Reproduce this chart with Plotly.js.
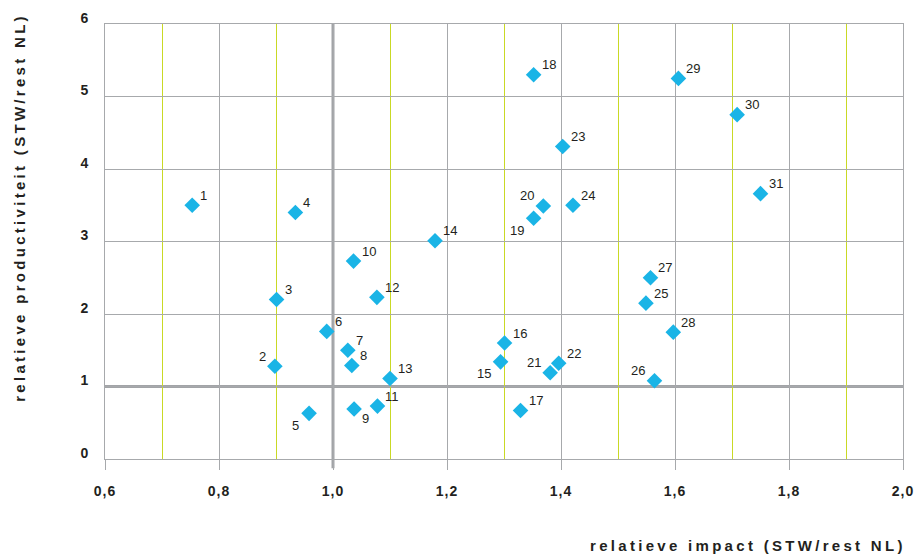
<!DOCTYPE html>
<html>
<head>
<meta charset="utf-8">
<script src="https://cdn.plot.ly/plotly-3.0.1.min.js"></script>
<style>
  html, body { margin: 0; padding: 0; background: #ffffff; }
  #chart { width: 915px; height: 554px; }
  .xtick text, .ytick text { letter-spacing: 1px; }
  .infolayer .annotation[data-index="31"] text,
  .infolayer .annotation[data-index="32"] text { letter-spacing: 3.3px; }
</style>
</head>
<body>
<div id="chart"></div>
<script>
// ---- data ----
const pointIds = [1, 2, 3, 4, 5, 6, 7, 8, 9, 10, 11, 12, 13, 14, 15, 16, 17, 18, 19, 20, 21, 22, 23, 24, 25, 26, 27, 28, 29, 30, 31];
const impact = [0.753, 0.898, 0.901, 0.934, 0.958, 0.989, 1.026, 1.033, 1.037, 1.036, 1.078, 1.077, 1.100, 1.179, 1.294, 1.301, 1.329, 1.352, 1.352, 1.369, 1.381, 1.396, 1.403, 1.421, 1.549, 1.564, 1.557, 1.597, 1.606, 1.709, 1.750];
const productivity = [3.50, 1.28, 2.20, 3.40, 0.63, 1.76, 1.50, 1.29, 0.69, 2.73, 0.73, 2.23, 1.11, 3.01, 1.34, 1.60, 0.67, 5.30, 3.32, 3.49, 1.19, 1.32, 4.31, 3.50, 2.15, 1.08, 2.50, 1.75, 5.25, 4.75, 3.66];
// label side per point: tr = top right, tl = top left, bl = bottom left, br = bottom right
const labelSide = ['tr','tl','tr','tr','bl','tr','tr','tr','br','tr','tr','tr','tr','tr','bl','tr','tr','tr','bl','tl','tl','tr','tr','tr','tr','tl','tr','tr','tr','tr','tr'];
const xTickVals = [0.6, 0.8, 1.0, 1.2, 1.4, 1.6, 1.8, 2.0];
const xTickText = ['0,6', '0,8', '1,0', '1,2', '1,4', '1,6', '1,8', '2,0'];
const yTickVals = [0, 1, 2, 3, 4, 5, 6];
const xTitle = 'relatieve impact (STW/rest NL)';
const yTitle = 'relatieve productiviteit (STW/rest NL)';

// ---- styles ----
const FONT = 'Liberation Sans, Arial, Helvetica, sans-serif';
const GRID = '#a7a9ac';
const MINOR = '#c9d925';
const TEXT = '#231f20';
const MARK = '#1ab4e6';

const sideStyle = {
  tr: {xanchor: 'left',  xshift: 6,  yshift: 10},
  tl: {xanchor: 'right', xshift: -7, yshift: 10},
  bl: {xanchor: 'right', xshift: -8, yshift: -12},
  br: {xanchor: 'left',  xshift: 6,  yshift: -10}
};

const labelAnnotations = pointIds.map((id, i) => Object.assign({
  x: impact[i], y: productivity[i], xref: 'x', yref: 'y',
  text: String(id), showarrow: false, yanchor: 'middle',
  font: {family: FONT, size: 13, color: TEXT}
}, sideStyle[labelSide[i]]));

const titleAnnotations = [
  {xref: 'paper', yref: 'paper', x: 1, y: -0.198, xanchor: 'right', yanchor: 'middle', align: 'right',
   xshift: 5, text: xTitle, showarrow: false,
   font: {family: FONT, size: 15, color: TEXT, weight: 'bold'}},
  {xref: 'paper', yref: 'paper', x: -0.107, y: 0.578, xanchor: 'center', yanchor: 'middle',
   textangle: -90, text: yTitle, showarrow: false,
   font: {family: FONT, size: 15, color: TEXT, weight: 'bold'}}
];

const trace = {
  type: 'scatter', mode: 'markers',
  x: impact, y: productivity,
  marker: {symbol: 'diamond', size: 12, color: MARK, line: {width: 0}},
  hoverinfo: 'x+y', cliponaxis: false
};

const layout = {
  width: 915, height: 554,
  margin: {l: 105, r: 12, t: 24, b: 95},
  paper_bgcolor: '#ffffff', plot_bgcolor: '#ffffff',
  showlegend: false,
  font: {family: FONT, color: TEXT},
  xaxis: {
    range: [0.6, 2.0], tickvals: xTickVals, ticktext: xTickText,
    showgrid: true, gridcolor: GRID, gridwidth: 1,
    showline: true, linecolor: GRID, linewidth: 1, mirror: true,
    ticks: 'outside', ticklen: 10, tickcolor: GRID, tickwidth: 1,
    tickfont: {family: FONT, size: 14, color: TEXT, weight: 'bold'},
    ticklabelstandoff: 9,
    zeroline: false, fixedrange: true,
    minor: {tick0: 0.7, dtick: 0.2, showgrid: true, gridcolor: MINOR, gridwidth: 1, ticks: ''}
  },
  yaxis: {
    range: [0, 6], tickvals: yTickVals,
    showgrid: true, gridcolor: GRID, gridwidth: 1,
    showline: true, linecolor: GRID, linewidth: 1, mirror: true,
    ticks: '', ticklabelstandoff: 12, ticklabelshift: -6,
    tickfont: {family: FONT, size: 14, color: TEXT, weight: 'bold'},
    zeroline: false, fixedrange: true
  },
  shapes: [
    {type: 'line', layer: 'below', xref: 'x', yref: 'paper', x0: 1.0, x1: 1.0, y0: -0.021, y1: 1,
     line: {color: '#a2a4a7', width: 3}},
    {type: 'line', layer: 'below', xref: 'paper', yref: 'y', x0: 0, x1: 1, y0: 1, y1: 1,
     line: {color: '#a2a4a7', width: 3}}
  ],
  annotations: labelAnnotations.concat(titleAnnotations)
};

Plotly.newPlot('chart', [trace], layout, {displayModeBar: false});
</script>
</body>
</html>
